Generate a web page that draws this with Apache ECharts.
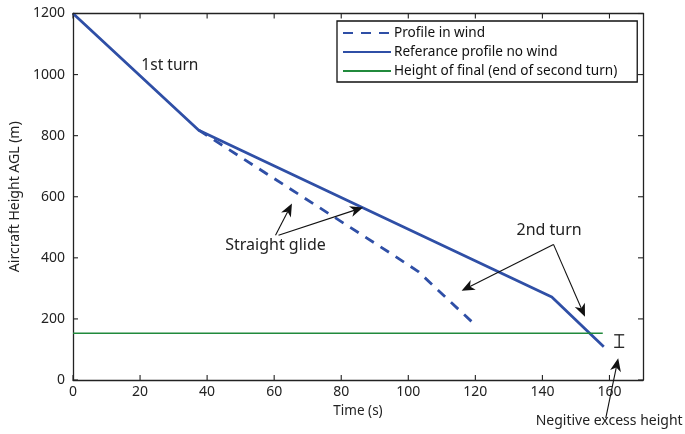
<!DOCTYPE html>
<html><head><meta charset="utf-8">
<script src="https://cdn.jsdelivr.net/npm/echarts@6/dist/echarts.min.js"></script>
<style>html,body{margin:0;padding:0;background:#fff}#c{width:685px;height:434px}</style>
</head><body><div id="c"></div>
<script>
// ---- data ----
const windT = [37.5, 94, 103, 111, 119.5];
const windH = [818, 420, 355, 272, 185];
const refT = [0, 37.5, 142.8, 158.3];
const refH = [1200, 818, 272, 109];
const finalT = [0, 158];
const finalH = [153, 153];
const xTicks = [0, 20, 40, 60, 80, 100, 120, 140, 160];
const yTicks = [0, 200, 400, 600, 800, 1000, 1200];
const names = ['Profile in wind', 'Referance profile no wind', 'Height of final (end of second turn)'];

const FONT = 'Noto Sans';
const BLUE = '#2f4fa6';
const GREEN = '#218a3c';
const zip = (a, b) => a.map((v, i) => [v, b[i]]);

const chart = echarts.init(document.getElementById('c'), null, {renderer: 'canvas'});
function axis(extra) {
  return Object.assign({
    type: 'value',
    axisLine: {show: true, onZero: false, lineStyle: {color: '#222', width: 1.3}},
    axisTick: {show: false},
    splitLine: {show: false}
  }, extra);
}
const option = {
  backgroundColor: '#fff',
  animation: false,
  textStyle: {fontFamily: FONT},
  grid: {left: 73, right: 42, top: 13.5, bottom: 54, containLabel: false},
  xAxis: [
    axis({
      min: 0, max: 170, interval: 20, position: 'bottom',
      name: 'Time (s)', nameLocation: 'middle', nameGap: 23,
      nameTextStyle: {fontFamily: FONT, fontSize: 13.5, color: '#222'},
      axisLabel: {fontFamily: FONT, fontSize: 14, color: '#222', margin: 5, showMaxLabel: false,
        formatter: v => xTicks.includes(v) ? String(v) : ''}
    }),
    axis({min: 0, max: 170, interval: 20, position: 'top', axisLabel: {show: false}})
  ],
  yAxis: [
    axis({
      min: 0, max: 1200, interval: 200, position: 'left',
      name: 'Aircraft Height AGL (m)', nameLocation: 'middle', nameGap: 40,
      nameTextStyle: {fontFamily: FONT, fontSize: 14, color: '#222'},
      axisLabel: {fontFamily: FONT, fontSize: 14, color: '#222', margin: 8,
        formatter: v => yTicks.includes(v) ? String(v) : ''}
    }),
    axis({min: 0, max: 1200, interval: 200, position: 'right', axisLabel: {show: false}})
  ],
  legend: {
    orient: 'vertical', left: 337, top: 21,
    backgroundColor: '#fff', borderColor: '#111', borderWidth: 1.3, borderRadius: 0,
    padding: [5, 20, 4, 5], itemGap: 5, itemWidth: 48, itemHeight: 15,
    textStyle: {fontFamily: FONT, fontSize: 13.6, color: '#111', padding: [0, 0, 0, -2]},
    icon: 'inherit',
    itemStyle: {opacity: 0},
    data: names,
    selectedMode: false
  },
  series: [
    {name: names[0], type: 'line', data: zip(windT, windH), symbol: 'none',
     lineStyle: {color: BLUE, width: 2.8, type: [10, 8]}, itemStyle: {color: BLUE}},
    {name: names[1], type: 'line', data: zip(refT, refH), symbol: 'none',
     lineStyle: {color: BLUE, width: 2.8}, itemStyle: {color: BLUE}},
    {name: names[2], type: 'line', data: zip(finalT, finalH), symbol: 'none',
     lineStyle: {color: GREEN, width: 1.4}, itemStyle: {color: GREEN}}
  ]
};
chart.setOption(option);

// ---- ticks (mirrored, inward) and annotations, placed in data coordinates ----
const px = (t, h) => chart.convertToPixel({gridIndex: 0}, [t, h]);
const TL = 5;
function seg(x1, y1, x2, y2, w, c) {
  return {type: 'line', shape: {x1: x1, y1: y1, x2: x2, y2: y2},
          style: {stroke: c || '#222', lineWidth: w || 1, fill: null}, z: 100};
}
function ticks() {
  const out = [];
  const p0 = px(0, 0), p1 = px(170, 1200);
  const xl = p0[0], yb = p0[1], xr = p1[0], yt = p1[1];
  xTicks.forEach(v => {
    const x = px(v, 0)[0];
    out.push(seg(x, yb, x, yb - TL, 1.1));
    out.push(seg(x, yt, x, yt + TL, 1.1));
  });
  yTicks.forEach(v => {
    const y = px(0, v)[1];
    out.push(seg(xl, y, xl + TL, y, 1.1));
    out.push(seg(xr, y, xr - TL, y, 1.1));
  });
  return out;
}
function arrow(a, b) {
  const [x1, y1] = px(a[0], a[1]);
  const [x2, y2] = px(b[0], b[1]);
  const dx = x2 - x1, dy = y2 - y1, L = Math.hypot(dx, dy);
  const ux = dx / L, uy = dy / L, nx = -uy, ny = ux;
  const hl = 13, hw = 5.5;
  const bx = x2 - ux * hl, by = y2 - uy * hl;
  const mx = x2 - ux * hl * 0.72, my = y2 - uy * hl * 0.72;
  return [
    {type: 'line', shape: {x1, y1, x2: mx, y2: my}, style: {stroke: '#111', lineWidth: 1.1}, z: 100},
    {type: 'polygon', shape: {points: [[x2, y2], [bx + nx * hw, by + ny * hw], [mx, my], [bx - nx * hw, by - ny * hw]]},
     style: {fill: '#111'}, z: 100}
  ];
}
function text(str, t, h, size) {
  const [x, y] = px(t, h);
  return {type: 'text', x, y, z: 100,
    style: {text: str, fontFamily: FONT, fontSize: size, fill: '#222', align: 'center', verticalAlign: 'middle'}};
}
function ibar(t, h1, h2) {
  const [x, y1] = px(t, h1);
  const [, y2] = px(t, h2);
  return [seg(x, y1, x, y2, 1.3), seg(x - 5, y1, x + 5, y1, 1.3), seg(x - 5, y2, x + 5, y2, 1.3)];
}
const g = [].concat(
  ticks(),
  text('1st turn', 28.9, 1031, 15.5),
  text('Straight glide', 60.4, 440, 16),
  arrow([60.4, 474], [65.3, 578]),
  arrow([61.3, 474], [86.5, 565]),
  text('2nd turn', 142, 490, 16),
  arrow([143.3, 444], [115.9, 292]),
  arrow([143.3, 444], [152.7, 207]),
  ibar(162.9, 148, 107),
  arrow([158.9, -125], [162.6, 71]),
  text('Negitive excess height', 159.9, -134, 14)
);
chart.setOption({graphic: {elements: g}});
</script></body></html>
